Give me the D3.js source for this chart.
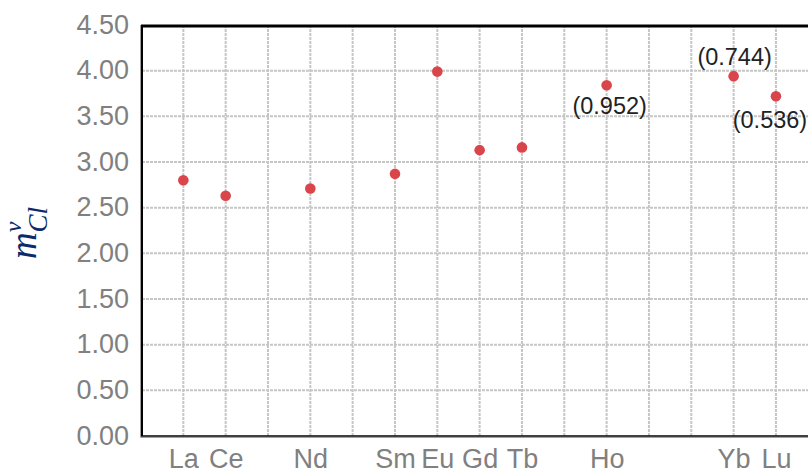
<!DOCTYPE html>
<html>
<head>
<meta charset="utf-8">
<script src="https://cdn.jsdelivr.net/npm/d3@7"></script>
<style>
  body { margin: 0; background: #fff; }
  svg { display: block; font-family: "Liberation Sans", Arial, sans-serif; }
</style>
</head>
<body>
<script>
// lanthanide series, every one gets a grid line
const elements = ["La", "Ce", "Pr", "Nd", "Pm", "Sm", "Eu", "Gd", "Tb", "Dy", "Ho", "Er", "Tm", "Yb", "Lu"];
// measured points
const pointNames = ["La", "Ce", "Nd", "Sm", "Eu", "Gd", "Tb", "Ho", "Yb", "Lu"];
const pointValues = [2.80, 2.63, 2.71, 2.87, 3.99, 3.13, 3.16, 3.84, 3.94, 3.72];
// bracketed notes on a few points
const noteNames = ["Ho", "Yb", "Lu"];
const noteTexts = ["(0.952)", "(0.744)", "(0.536)"];
const yTicks = [0, 0.5, 1, 1.5, 2, 2.5, 3, 3.5, 4, 4.5];

const width = 808, height = 473;
const plotLeft = 142, plotTop = 25, plotBottom = 436;

const svg = d3.select("body").append("svg")
  .attr("width", width)
  .attr("height", height);

const x = d3.scaleLinear().domain([-1, 16]).range([141, 141 + 17 * 42.33]);
const y = d3.scaleLinear().domain([0, 4.5]).range([plotBottom, plotTop]);
const idx = name => elements.indexOf(name);

// grid
const grid = svg.append("g")
  .attr("stroke", "#c6c6c6")
  .attr("stroke-width", 2)
  .attr("stroke-dasharray", "3,1");

grid.selectAll("line.v").data(elements).enter().append("line")
  .attr("class", "v")
  .attr("x1", d => x(idx(d))).attr("x2", d => x(idx(d)))
  .attr("y1", plotTop).attr("y2", plotBottom);

grid.selectAll("line.h").data(yTicks.slice(1, -1)).enter().append("line")
  .attr("class", "h")
  .attr("x1", plotLeft).attr("x2", width)
  .attr("y1", d => y(d)).attr("y2", d => y(d));

// y axis
const yAxis = d3.axisLeft(y).tickValues(yTicks).tickFormat(d3.format(".2f")).tickSize(0).tickPadding(13);
const gy = svg.append("g").attr("transform", `translate(${plotLeft},0)`).call(yAxis);
gy.select(".domain").remove();
gy.selectAll("text")
  .attr("fill", "#808080")
  .style("font-size", "27px")
  .style("font-family", "'Liberation Sans', Arial, sans-serif")
  .attr("dy", "0.3em");

// x axis, labels only where there is a point
const xAxis = d3.axisBottom(x).tickValues(pointNames.map(idx)).tickFormat(i => elements[i]).tickSize(0).tickPadding(13);
const gx = svg.append("g").attr("transform", `translate(0,${plotBottom})`).call(xAxis);
gx.select(".domain").remove();
gx.selectAll("text")
  .attr("fill", "#808080")
  .style("font-size", "27px")
  .style("font-family", "'Liberation Sans', Arial, sans-serif");

// frame lines with a grey shadow
svg.append("line").attr("x1", plotLeft - 1.5).attr("x2", plotLeft - 1.5).attr("y1", plotTop).attr("y2", plotBottom + 1.5)
  .attr("stroke", "#a0a0a0").attr("stroke-width", 1);
svg.append("line").attr("x1", plotLeft - 1.5).attr("x2", width).attr("y1", plotBottom + 1.5).attr("y2", plotBottom + 1.5)
  .attr("stroke", "#a0a0a0").attr("stroke-width", 1);
svg.append("line").attr("x1", plotLeft).attr("x2", plotLeft).attr("y1", plotTop).attr("y2", plotBottom)
  .attr("stroke", "#000").attr("stroke-width", 2);
svg.append("line").attr("x1", plotLeft - 1).attr("x2", width).attr("y1", plotBottom).attr("y2", plotBottom)
  .attr("stroke", "#000").attr("stroke-width", 1.5);
svg.append("line").attr("x1", plotLeft - 1).attr("x2", width).attr("y1", plotTop + 1).attr("y2", plotTop + 1)
  .attr("stroke", "#000").attr("stroke-width", 3);

// points
svg.selectAll("circle").data(pointNames).enter().append("circle")
  .attr("cx", d => x(idx(d)))
  .attr("cy", (d, i) => y(pointValues[i]))
  .attr("r", 5.3)
  .attr("fill", "#d9454a");

// notes
const noteOffset = { Ho: [3, 21], Yb: [1, -19], Lu: [-6, 24] };
svg.selectAll("text.note").data(noteNames).enter().append("text")
  .attr("class", "note")
  .attr("x", d => x(idx(d)) + noteOffset[d][0])
  .attr("y", d => y(pointValues[pointNames.indexOf(d)]) + noteOffset[d][1])
  .attr("text-anchor", "middle")
  .attr("dominant-baseline", "central")
  .attr("fill", "#222")
  .style("font-size", "23.5px")
  .text((d, i) => noteTexts[i]);

// y label m^v_Cl
const yl = svg.append("text")
  .attr("transform", "translate(36,259) rotate(-90)")
  .attr("fill", "#0d2a6b")
  .style("font-family", "'Liberation Serif', 'DejaVu Serif', serif")
  .style("font-style", "italic");
yl.append("tspan").style("font-size", "37px").text("m");
yl.append("tspan").style("font-size", "24px").attr("dy", -15).text("v");
yl.append("tspan").style("font-size", "27px").attr("dx", -11).attr("dy", 26).text("Cl");
</script>
</body>
</html>
